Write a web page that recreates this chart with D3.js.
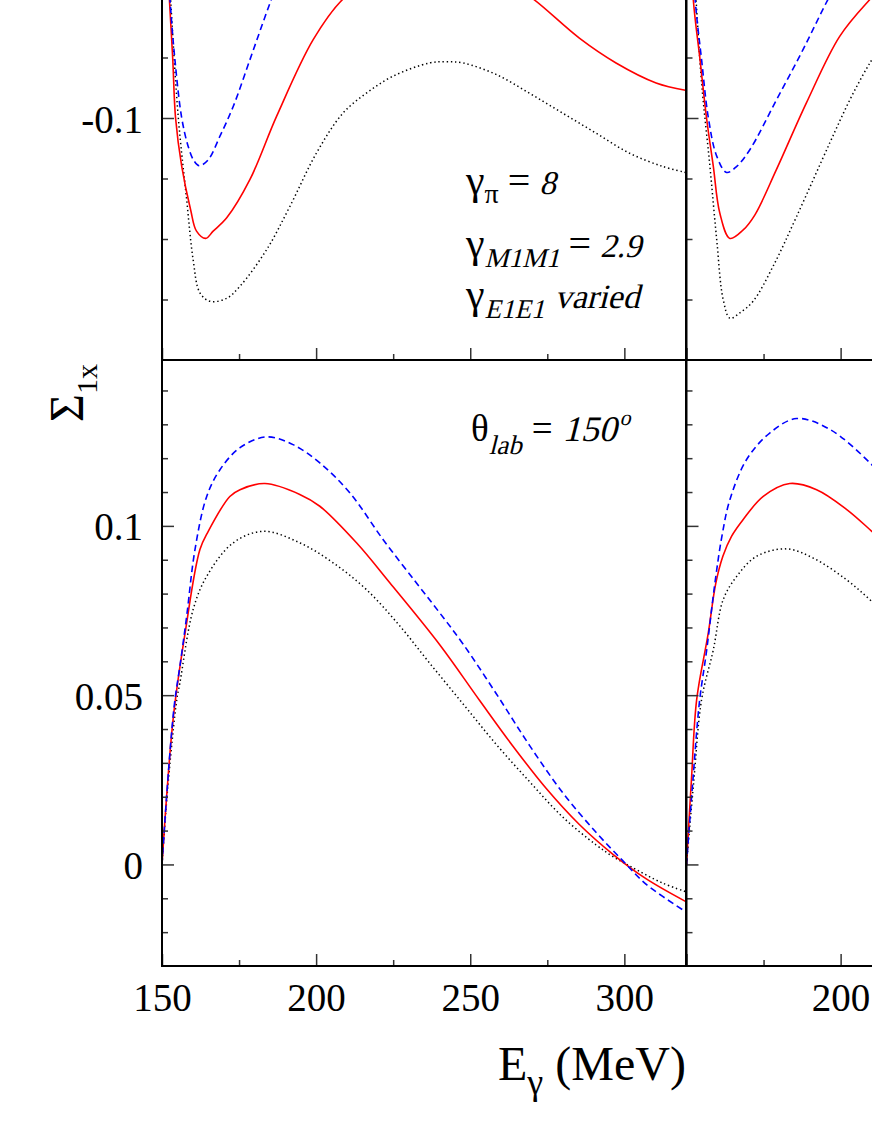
<!DOCTYPE html>
<html>
<head>
<meta charset="utf-8">
<script src="https://cdn.jsdelivr.net/npm/d3@7/dist/d3.min.js"></script>
<style>
  body { margin: 0; background: #fff; }
  svg { display: block; font-family: "Liberation Serif", "Times New Roman", serif; }
  .frame { fill: none; stroke: #000; stroke-width: 2; }
  .tick line { stroke: #333; stroke-width: 1.5; }
  .tick text { font-family: "Liberation Serif", "Times New Roman", serif; font-size: 39px; fill: #000; }
  .curve { fill: none; stroke-width: 1.6; }
  .curve.dotted { stroke: #000; stroke-width: 1.5; stroke-dasharray: 1.4 2.8; }
  .curve.solid  { stroke: #ff0000; }
  .curve.dashed { stroke: #0000ff; stroke-dasharray: 6.5 4; }
</style>
</head>
<body>
<script>
(function () {

  // [E_gamma (MeV), Sigma_1x], one list per curve and panel.
  // dashed = blue, solid = red, dotted = black

  let topLeftDashed = [
    [151.2, -0.066], [152.6, -0.0804], [154.2, -0.0904], [156.4, -0.1], [158.5, -0.1047],
    [160.4, -0.1071], [162.1, -0.1079], [165, -0.1069], [168.8, -0.103], [173.1, -0.0981],
    [178.5, -0.0904], [183.9, -0.0826], [188, -0.077], [195, -0.068], [205, -0.061],
    [220, -0.0565], [238, -0.0555], [255, -0.058], [275, -0.0635], [295, -0.071],
    [310, -0.0765], [320, -0.0805]
  ];
  let topLeftSolid = [
    [151, -0.066], [152.4, -0.0804], [153.5, -0.0904], [154.4, -0.1], [156.4, -0.108],
    [159.3, -0.1152], [161.2, -0.1187], [164.2, -0.1199], [166.6, -0.1187], [171, -0.1165],
    [178.5, -0.1102], [187.2, -0.0997], [199, -0.0871], [208.6, -0.0804], [220, -0.0763],
    [237, -0.0738], [252, -0.075], [262, -0.0775], [270.6, -0.0804], [285.4, -0.0868],
    [297.3, -0.0909], [310.3, -0.0942], [319.8, -0.0954]
  ];
  let topLeftDotted = [
    [151.3, -0.066], [152.8, -0.0804], [155.3, -0.1], [158, -0.1135], [160.1, -0.1234],
    [162.3, -0.1289], [165.6, -0.1303], [171, -0.1298], [175.3, -0.1278], [183.9, -0.1218],
    [191.5, -0.1146], [200.1, -0.1058], [208.7, -0.0992], [216.3, -0.0959], [224.9, -0.0931],
    [236.8, -0.0909], [242.2, -0.0907], [247.6, -0.0909], [258.4, -0.0928], [269.2, -0.0959],
    [280, -0.0992], [290.8, -0.1025], [301.6, -0.1058], [312.4, -0.108], [319.8, -0.109]
  ];

  let topRightDashed = [
    [151.3, -0.066], [152.8, -0.0804], [154.9, -0.0904], [157.1, -0.1], [159.8, -0.1063],
    [163, -0.109], [166.3, -0.108], [170.6, -0.1052], [179.2, -0.097], [187.8, -0.0887],
    [195.9, -0.0804], [205, -0.072], [215, -0.065]
  ];
  let topRightSolid = [
    [151, -0.066], [152.2, -0.0804], [154.4, -0.0904], [156.5, -0.1], [158.7, -0.108],
    [160.8, -0.1157], [164.1, -0.1199], [168.4, -0.1185], [172.2, -0.116], [179.2, -0.1085],
    [188.9, -0.0975], [199.7, -0.0865], [209.5, -0.0804], [218, -0.076]
  ];
  let topRightDotted = [
    [151.5, -0.066], [153.1, -0.0804], [154.9, -0.0942], [157.6, -0.108], [159.8, -0.1201],
    [161.9, -0.13], [164.1, -0.1331], [167.3, -0.1322], [171.6, -0.1303], [178.1, -0.1245],
    [185.7, -0.1163], [196.5, -0.1041], [203, -0.097], [209.5, -0.0909], [216, -0.086]
  ];

  let bottomLeftDashed = [
    [150, 0], [151.5, 0.0201], [153.1, 0.0388], [154.2, 0.0487], [155.8, 0.0585],
    [158, 0.0733], [160.7, 0.093], [164.5, 0.1087], [168.8, 0.1166], [175.3, 0.1231],
    [183.9, 0.1263], [192.5, 0.124], [201.2, 0.1186], [210.9, 0.1098], [221.7, 0.096],
    [232.5, 0.0832], [240.1, 0.0743], [247.6, 0.0652], [258.4, 0.0505], [269.2, 0.0352],
    [280, 0.0212], [290.8, 0.0095], [299.4, 0.0012], [307, -0.0058], [319.8, -0.0139]
  ];
  let bottomLeftSolid = [
    [150, 0], [151.5, 0.0201], [153.7, 0.0437], [157.5, 0.0684], [162.3, 0.093],
    [165, 0.0984], [172, 0.1087], [175.3, 0.1107], [183.4, 0.1125], [194.7, 0.1093],
    [201.2, 0.1058], [213.1, 0.095], [223.9, 0.0832], [240.1, 0.0649], [253, 0.0485],
    [263.8, 0.035], [274.6, 0.0225], [285.4, 0.0118], [296.3, 0.003], [307, -0.0042],
    [319.8, -0.0109]
  ];
  let bottomLeftDotted = [
    [150, 0], [152, 0.0241], [154.8, 0.0487], [155.8, 0.0536], [160.1, 0.0753],
    [164.5, 0.0851], [173.1, 0.095], [182.9, 0.0984], [194.7, 0.095], [205.5, 0.0891],
    [216.3, 0.0812], [227.1, 0.0705], [236.8, 0.0595], [247.6, 0.0475], [258.4, 0.0355],
    [269.2, 0.0245], [280, 0.014], [290.8, 0.0058], [296, 0.0025], [301.6, -0.0004],
    [312.4, -0.0055], [319.8, -0.008]
  ];

  let bottomRightDashed = [
    [150, 0], [152, 0.024], [154.2, 0.048], [156.5, 0.063], [159.2, 0.083],
    [161.5, 0.097], [164.1, 0.1078], [169.5, 0.1196], [177.1, 0.1275], [185.7, 0.1317],
    [196.5, 0.1285], [210.1, 0.1181], [220, 0.108]
  ];
  let bottomRightSolid = [
    [150, 0], [151.6, 0.025], [153.3, 0.0487], [157, 0.068], [159.5, 0.083],
    [161.8, 0.091], [164.6, 0.0969], [168.4, 0.1019], [174.9, 0.1087], [183.5, 0.1125],
    [192.2, 0.1107], [201.9, 0.1049], [210.1, 0.0984], [220, 0.09]
  ];
  let bottomRightDotted = [
    [150, 0], [152.4, 0.025], [154.9, 0.0487], [158.7, 0.0634], [161.9, 0.0782],
    [166.3, 0.0851], [172.7, 0.091], [182.5, 0.0932], [191.1, 0.0905], [201.9, 0.0841],
    [210.1, 0.0777], [220, 0.069]
  ];

  // Tick values
  let xDomain    = [150, 320];
  let xMajor     = [150, 200, 250, 300];
  let xMinor     = [175, 225, 275];
  let topDomain  = [-0.14, -0.04];
  let topMajor   = [-0.1];
  let topMinor   = [-0.13, -0.12, -0.11, -0.09, -0.08];
  let botDomain  = [-0.03, 0.149];
  let botMajor   = [0, 0.05, 0.1];
  let botMinor   = [-0.02, -0.01, 0.01, 0.02, 0.03, 0.04, 0.06, 0.07, 0.08, 0.09, 0.11, 0.12, 0.13, 0.14];

  // Graphical dimensions (the figure is cropped: top row runs off the top, right column off the right)
  let width  = 872;
  let height = 1128;
  let panelW = 524;
  let colX   = [162, 686.5];
  let rowY   = [[-245, 360], [360, 966]];

  let panels = [
    { col: 0, row: 0, domain: topDomain, major: topMajor, minor: topMinor, yLabels: true,  xLabels: [],
      curves: [topLeftDotted, topLeftSolid, topLeftDashed] },
    { col: 1, row: 0, domain: topDomain, major: topMajor, minor: topMinor, yLabels: false, xLabels: [],
      curves: [topRightDotted, topRightSolid, topRightDashed] },
    { col: 0, row: 1, domain: botDomain, major: botMajor, minor: botMinor, yLabels: true,  xLabels: [150, 200, 250, 300],
      curves: [bottomLeftDotted, bottomLeftSolid, bottomLeftDashed] },
    { col: 1, row: 1, domain: botDomain, major: botMajor, minor: botMinor, yLabels: false, xLabels: [200],
      curves: [bottomRightDotted, bottomRightSolid, bottomRightDashed] },
  ];
  let styles = ['dotted', 'solid', 'dashed'];

  let svg = d3.select('body').append('svg')
      .attr('width', width)
      .attr('height', height)
      .attr('viewBox', '0 0 ' + width + ' ' + height);

  let defs = svg.append('defs');

  panels.forEach(function (p, i) {
    let x0 = colX[p.col];
    let y0 = rowY[p.row][0];
    let y1 = rowY[p.row][1];

    let x = d3.scaleLinear().domain(xDomain).range([x0, x0 + panelW]);
    let y = d3.scaleLinear().domain(p.domain).range([y1, y0]);

    defs.append('clipPath').attr('id', 'clip' + i)
      .append('rect')
      .attr('x', x0).attr('y', y0)
      .attr('width', panelW).attr('height', y1 - y0);

    let g = svg.append('g').attr('class', 'panel');

    // curves
    let line = d3.line()
        .x(d => x(d[0]))
        .y(d => y(d[1]))
        .curve(d3.curveCatmullRom.alpha(0.5));

    g.append('g').attr('clip-path', 'url(#clip' + i + ')')
      .selectAll('path')
      .data(p.curves)
      .enter().append('path')
      .attr('class', (d, k) => 'curve ' + styles[k])
      .attr('d', line);

    // y axis, ticks pointing inwards
    g.append('g')
      .attr('transform', 'translate(' + x0 + ',0)')
      .call(d3.axisLeft(y).tickValues(p.minor).tickSize(-6).tickFormat(''))
      .call(a => a.select('.domain').remove());
    g.append('g')
      .attr('transform', 'translate(' + x0 + ',0)')
      .call(d3.axisLeft(y).tickValues(p.major).tickSize(-12).tickPadding(19)
        .tickFormat(d => p.yLabels ? String(d) : ''))
      .call(a => a.select('.domain').remove())
      .call(a => a.selectAll('text').attr('dy', '0.36em'));

    // x axis along the bottom of the panel
    g.append('g')
      .attr('transform', 'translate(0,' + y1 + ')')
      .call(d3.axisBottom(x).tickValues(xMinor).tickSize(-6).tickFormat(''))
      .call(a => a.select('.domain').remove());
    g.append('g')
      .attr('transform', 'translate(0,' + y1 + ')')
      .call(d3.axisBottom(x).tickValues(xMajor).tickSize(-12).tickPadding(17)
        .tickFormat(d => p.xLabels.indexOf(d) >= 0 ? String(d) : ''))
      .call(a => a.select('.domain').remove());

    g.append('rect')
      .attr('class', 'frame')
      .attr('x', x0).attr('y', y0)
      .attr('width', panelW).attr('height', y1 - y0);
  });

  // Text built from runs laid out one after another; italic runs are slanted
  // upright serif so they keep the Times look.
  function richText(x, y, runs) {
    let g = svg.append('g').attr('class', 'label');
    let cx = x;
    runs.forEach(function (r) {
      cx += (r.before || 0);
      let t = g.append('text')
          .attr('font-size', r.size)
          .attr('transform', 'translate(' + cx + ',' + (y + (r.dy || 0)) + ')' + (r.italic ? ' skewX(-14)' : ''))
          .text(r.text);
      cx += t.node().getComputedTextLength();
    });
    return g;
  }

  // y axis title
  let ytitle = svg.append('text')
      .attr('transform', 'translate(83,422) rotate(-90)')
      .attr('font-size', 48);
  ytitle.append('tspan').text('\u03A3');
  ytitle.append('tspan').attr('font-size', 30).attr('dy', 14).text('1x');

  // x axis title
  richText(498, 1080, [
    { text: 'E', size: 48 },
    { text: '\u03B3', size: 36, dy: 14 },
    { text: '(MeV)', size: 48, before: 12 },
  ]);

  // parameter labels, top panel
  richText(466, 194, [
    { text: '\u03B3', size: 42 },
    { text: '\u03C0', size: 28, dy: 9 },
    { text: '=', size: 40, before: 9 },
    { text: '8', size: 33, italic: true, before: 9 },
  ]);
  richText(466, 257, [
    { text: '\u03B3', size: 42 },
    { text: 'M1M1', size: 27, dy: 10, italic: true },
    { text: '=', size: 40, before: 9 },
    { text: '2.9', size: 33, italic: true, before: 9 },
  ]);
  richText(466, 308, [
    { text: '\u03B3', size: 42 },
    { text: 'E1E1', size: 27, dy: 10, italic: true },
    { text: 'varied', size: 34, italic: true, before: 10 },
  ]);

  // angle label, bottom panel
  richText(471, 441, [
    { text: '\u03B8', size: 37 },
    { text: 'lab', size: 27, dy: 13, italic: true },
    { text: '=', size: 37, before: 10 },
    { text: '150', size: 36, italic: true, before: 10 },
    { text: 'o', size: 22, dy: -16, italic: true, before: 3 },
  ]);

})();
</script>
</body>
</html>
